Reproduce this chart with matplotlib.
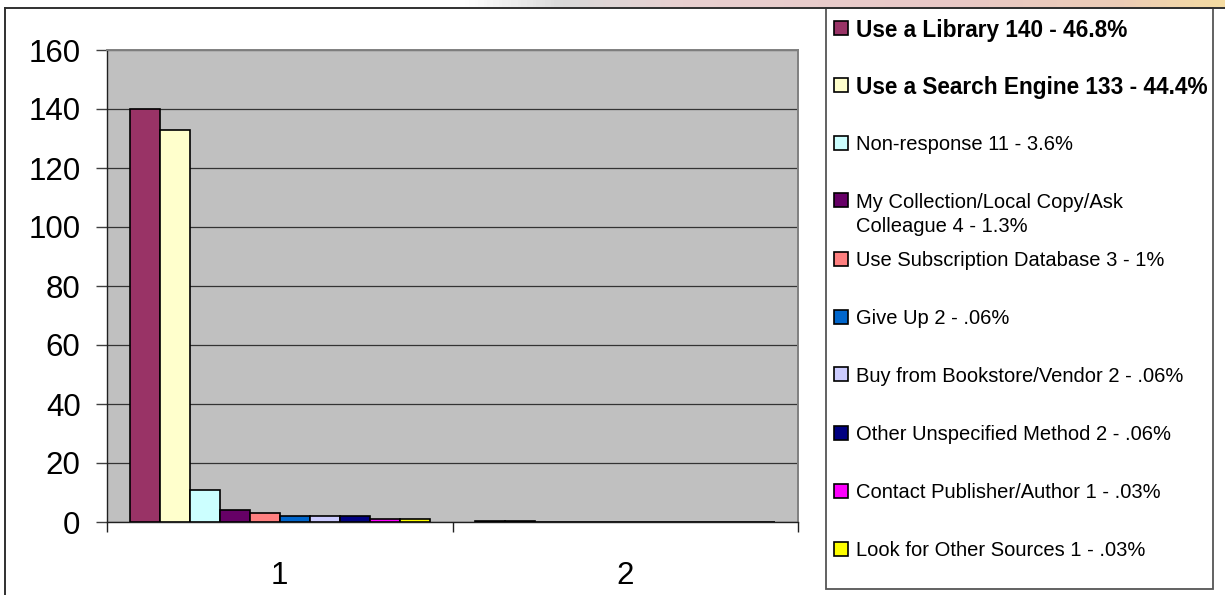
import numpy as np
import matplotlib
matplotlib.use("Agg")
import matplotlib.pyplot as plt
from matplotlib.colors import LinearSegmentedColormap
from matplotlib.patches import Rectangle

# データ: 1行目は件数、2行目は割合(小数)
methods = [
    "Use a Library",
    "Use a Search Engine",
    "Non-response",
    "My Collection/Local Copy/Ask\nColleague",
    "Use Subscription Database",
    "Give Up",
    "Buy from Bookstore/Vendor",
    "Other Unspecified Method",
    "Contact Publisher/Author",
    "Look for Other Sources",
]
counts = [140, 133, 11, 4, 3, 2, 2, 2, 1, 1]
shares = [0.468, 0.444, 0.036, 0.013, 0.01, 0.0006, 0.0006, 0.0006, 0.0003, 0.0003]
pct_labels = ["46.8%", "44.4%", "3.6%", "1.3%", "1%", ".06%", ".06%", ".06%", ".03%", ".03%"]
categories = ["1", "2"]

colors = ["#993366", "#FFFFCC", "#CCFFFF", "#660066", "#FF8080",
          "#0066CC", "#CCCCFF", "#000080", "#FF00FF", "#FFFF00"]

plt.rcParams["font.family"] = ["Liberation Sans", "DejaVu Sans"]

W, H = 1225, 595
fig = plt.figure(figsize=(W / 100, H / 100), dpi=100)


def fx(px):
    return px / W


def fy(py):
    return 1 - py / H


# 上端の帯(グラデーション)
band = fig.add_axes([0, fy(8), 1, 8 / H])
band_cmap = LinearSegmentedColormap.from_list("band", [
    (0.0, "#ffffff"), (0.38, "#ffffff"), (0.46, "#d9d9d9"),
    (0.56, "#e9d0d0"), (0.78, "#e8c8c6"), (0.92, "#edcdb6"), (1.0, "#f4dba2"),
])
band.imshow(np.linspace(0, 1, 400)[None, :], aspect="auto", cmap=band_cmap)
band.set_axis_off()

# チャートエリアの枠線
fig.add_artist(plt.Line2D([fx(5), fx(5)], [fy(8), 0], color="#303030", lw=1.4))
fig.add_artist(plt.Line2D([fx(5), 1], [fy(8), fy(8)], color="#303030", lw=1.4))

# プロットエリア
ax = fig.add_axes([fx(107), fy(522), fx(798) - fx(107), (522 - 50) / H])
ax.set_facecolor("#C0C0C0")

n = len(methods)
w = 1 / (n + 1.5)  # 間隔 150%
x = np.arange(len(categories))
for i in range(n):
    vals = [counts[i], shares[i]]
    ax.bar(x + (i - (n - 1) / 2) * w, vals, width=w, color=colors[i],
           edgecolor="black", linewidth=1.2, zorder=3)

ax.set_xlim(-0.5, len(categories) - 0.5)
ax.set_ylim(0, 160)
ax.set_yticks(range(0, 161, 20))
ax.yaxis.grid(True, color="#333333", linewidth=0.9, zorder=1)
ax.set_axisbelow(True)

ax.set_xticks(x)
ax.set_xticklabels(categories)
ax.set_xticks(np.arange(len(categories) + 1) - 0.5, minor=True)
ax.tick_params(axis="x", which="major", length=0, pad=28, labelsize=22.5)
ax.tick_params(axis="x", which="minor", length=7.5, width=1.0, color="#202020")
ax.tick_params(axis="y", length=8, width=1.0, color="#404040", pad=11, labelsize=22.5)

for side in ["top", "right"]:
    ax.spines[side].set_color("#808080")
    ax.spines[side].set_linewidth(1.4)
for side in ["left", "bottom"]:
    ax.spines[side].set_color("#202020")
    ax.spines[side].set_linewidth(1.0)

# 凡例(手描き)
fig.add_artist(Rectangle((fx(826), fy(589)), fx(1213) - fx(826), (589 - 8) / H,
                         transform=fig.transFigure, facecolor="white",
                         edgecolor="#555555", lw=1.3))
entry_y = [28, 85, 143, 200, 259, 317, 374, 433, 491, 549]
line_h = 25
for i in range(n):
    y = entry_y[i]
    fig.add_artist(Rectangle((fx(834), fy(y + 7)), 14 / W, 14 / H,
                             transform=fig.transFigure, facecolor=colors[i],
                             edgecolor="black", lw=1.2))
    label = f"{methods[i]} {counts[i]} - {pct_labels[i]}"
    bold = i < 2
    for j, line in enumerate(label.split("\n")):
        fig.text(fx(856), fy(y + j * line_h), line,
                 fontsize=16.3 if bold else 14.5,
                 fontweight="bold" if bold else "normal",
                 va="center_baseline", ha="left")

fig.savefig("out.png", dpi=100)
